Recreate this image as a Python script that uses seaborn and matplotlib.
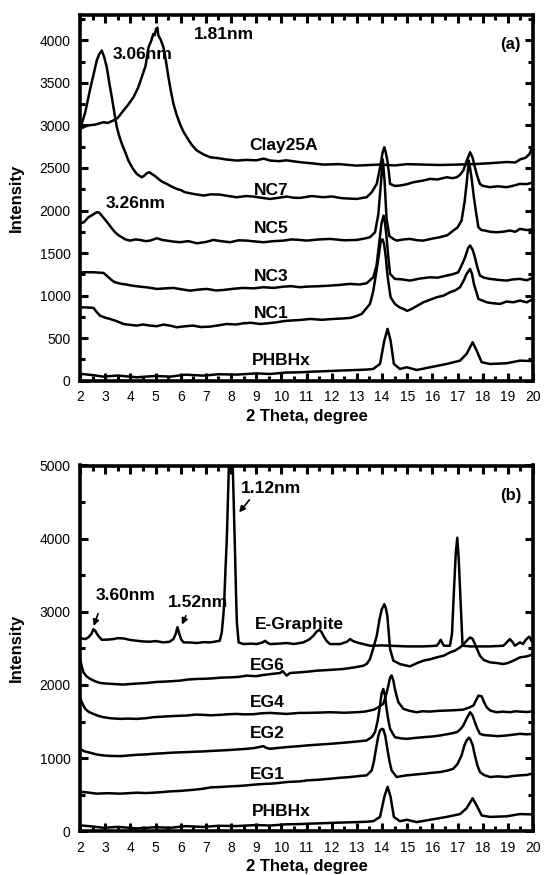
import numpy as np
import pandas as pd
import matplotlib
matplotlib.use("Agg")
import matplotlib.pyplot as plt
import seaborn as sns
from matplotlib.ticker import MultipleLocator

sns.set_style("ticks")
plt.rcParams['font.family'] = ['Liberation Sans', 'DejaVu Sans']
plt.rcParams['text.color'] = 'black'
plt.rcParams['axes.labelcolor'] = 'black'
plt.rcParams['xtick.color'] = 'black'
plt.rcParams['ytick.color'] = 'black'
plt.rcParams['axes.edgecolor'] = 'black'

# ---- panel (a): PHBHx / Clay25A nanocomposites ----
clay_x = [2.0, 2.3, 2.6, 2.93, 3.1, 3.32, 3.5, 3.72, 3.9, 4.12, 4.3, 4.45, 4.6, 4.72, 4.82, 4.91, 4.96, 5.02, 5.07, 5.11,
          5.2, 5.31, 5.41, 5.51, 5.61, 5.71, 5.84, 5.97, 6.1, 6.24, 6.44, 6.64, 6.9, 7.17, 7.5, 7.8, 8.23, 8.6, 9.0, 9.3,
          9.55, 9.9, 10.2, 10.74, 11.2, 11.67, 12.3, 12.99, 13.5, 13.92, 14.5, 15.0, 15.64, 16.3, 16.97, 17.6, 18.29,
          18.95, 19.3, 19.48, 19.7, 19.85, 20.0]
clay_y = [2960, 3000, 3010, 3038, 3030, 3058, 3090, 3175, 3240, 3332, 3440, 3567, 3700, 3920, 3990, 4077, 4060, 4136, 4150, 4057,
          4010, 3920, 3760, 3567, 3400, 3254, 3120, 3018, 2930, 2862, 2770, 2705, 2660, 2626, 2615, 2600, 2587, 2595, 2590, 2610,
          2587, 2580, 2590, 2568, 2555, 2540, 2545, 2528, 2535, 2540, 2530, 2545, 2540, 2535, 2540, 2545, 2556,
          2570, 2565, 2600, 2620, 2660, 2760]

nc7_x = [2.0, 2.2, 2.4, 2.55, 2.66, 2.76, 2.86, 2.96, 3.06, 3.16, 3.26, 3.36, 3.46, 3.56, 3.66, 3.8, 3.92, 4.08, 4.25, 4.45,
         4.55, 4.65, 4.75, 4.85, 5.0, 5.11, 5.25, 5.44, 5.65, 5.84, 6.0, 6.17, 6.5, 6.9, 7.2, 7.56, 7.9, 8.23, 8.6, 8.89,
         9.2, 9.55, 9.9, 10.21, 10.5, 10.74, 11.2, 11.67, 12.0, 12.4, 12.99, 13.39, 13.59, 13.79, 13.87, 13.95, 14.02,
         14.09, 14.15, 14.21, 14.27, 14.32, 14.5, 14.71, 15.0, 15.24, 15.6, 15.91, 16.2, 16.57, 16.8, 16.97, 17.1, 17.23,
         17.36, 17.5, 17.6, 17.69, 17.79, 17.89, 18.0, 18.29, 18.6, 18.95, 19.2, 19.48, 19.75, 20.0]
nc7_y = [2960, 3150, 3430, 3620, 3763, 3840, 3881, 3800, 3685, 3500, 3332, 3150, 2979, 2870, 2783, 2680, 2587, 2500, 2430, 2391,
         2410, 2438, 2450, 2430, 2400, 2372, 2340, 2313, 2280, 2254, 2240, 2215, 2195, 2176, 2190, 2187, 2170, 2156, 2170, 2164,
         2150, 2136, 2150, 2164, 2150, 2148, 2170, 2156, 2165, 2145, 2136, 2156, 2215, 2313, 2430, 2548, 2680,
         2744, 2680, 2587, 2450, 2313, 2290, 2293, 2310, 2332, 2350, 2372, 2365, 2391, 2380, 2391, 2420, 2470,
         2580, 2685, 2620, 2509, 2400, 2313, 2290, 2274, 2285, 2274, 2290, 2313, 2310, 2330]

nc5_x = [2.0, 2.15, 2.33, 2.5, 2.66, 2.76, 2.86, 3.0, 3.13, 3.26, 3.39, 3.52, 3.66, 3.8, 3.99, 4.2, 4.38, 4.6, 4.78, 5.05,
         5.25, 5.44, 5.7, 5.97, 6.3, 6.64, 7.0, 7.3, 7.6, 7.96, 8.3, 8.62, 9.0, 9.28, 9.7, 10.08, 10.4, 10.74, 11.0, 11.5,
         11.93, 12.5, 12.99, 13.3, 13.52, 13.72, 13.85, 13.95, 14.03, 14.1, 14.18, 14.29, 14.45, 14.58, 14.85, 15.11,
         15.4, 15.64, 16.0, 16.3, 16.6, 16.83, 17.0, 17.16, 17.28, 17.36, 17.45, 17.55, 17.65, 17.75, 17.83, 17.95,
         18.09, 18.3, 18.55, 18.8, 19.08, 19.3, 19.48, 19.75, 20.0]
nc5_y = [1850, 1862, 1921, 1950, 1980, 1975, 1940, 1890, 1842, 1790, 1744, 1710, 1686, 1660, 1646, 1660, 1654, 1640, 1646, 1674,
         1655, 1646, 1635, 1627, 1640, 1615, 1630, 1654, 1640, 1627, 1650, 1646, 1635, 1627, 1640, 1646, 1660, 1654, 1646, 1660,
         1666, 1650, 1654, 1670, 1686, 1744, 1950, 2300, 2600, 2350, 1900, 1700, 1666, 1646, 1660, 1666,
         1650, 1646, 1670, 1686, 1710, 1764, 1800, 1882, 2100, 2313, 2587, 2400, 2156, 1950, 1803, 1770,
         1764, 1750, 1744, 1750, 1764, 1750, 1784, 1770, 1780]

nc3_x = [2.0, 2.53, 2.93, 3.03, 3.13, 3.26, 3.39, 3.6, 3.85, 4.1, 4.38, 4.7, 5.05, 5.4, 5.71, 6.0, 6.37, 6.7, 7.03, 7.4,
         7.7, 8.1, 8.49, 8.9, 9.28, 9.7, 10.08, 10.4, 10.74, 11.0, 11.5, 11.93, 12.3, 12.73, 13.1, 13.39, 13.65, 13.78,
         13.88, 13.98, 14.06, 14.12, 14.18, 14.25, 14.32, 14.51, 14.8, 15.11, 15.5, 15.91, 16.2, 16.57, 16.8, 17.03,
         17.2, 17.3, 17.42, 17.5, 17.6, 17.69, 17.79, 17.89, 18.05, 18.29, 18.6, 18.95, 19.2, 19.48, 19.75, 20.0]
nc3_y = [1274, 1274, 1266, 1240, 1215, 1180, 1156, 1140, 1129, 1115, 1105, 1095, 1078, 1085, 1090, 1075, 1058, 1070, 1078, 1060,
         1066, 1080, 1090, 1085, 1098, 1090, 1105, 1110, 1098, 1105, 1110, 1117, 1125, 1137, 1130, 1145, 1215, 1350,
         1600, 1850, 1940, 1850, 1686, 1450, 1254, 1196, 1190, 1176, 1200, 1215, 1210, 1235, 1250, 1274,
         1380, 1450, 1560, 1588, 1540, 1450, 1330, 1235, 1210, 1196, 1185, 1176, 1190, 1196, 1180, 1210]

nc1_x = [2.0, 2.3, 2.53, 2.65, 2.79, 3.0, 3.19, 3.45, 3.72, 4.0, 4.25, 4.5, 4.78, 5.05, 5.31, 5.6, 5.84, 6.2, 6.5, 6.8,
         7.17, 7.5, 7.83, 8.2, 8.49, 8.8, 9.15, 9.5, 9.81, 10.1, 10.34, 10.74, 11.14, 11.6, 12.06, 12.4, 12.73, 13.0,
         13.19, 13.35, 13.52, 13.65, 13.76, 13.86, 13.95, 14.02, 14.08, 14.15, 14.21, 14.28, 14.34, 14.51, 14.7, 14.85,
         15.0, 15.18, 15.4, 15.64, 15.9, 16.17, 16.45, 16.7, 16.9, 17.1, 17.25, 17.36, 17.5, 17.58, 17.65, 17.75,
         17.83, 18.0, 18.16, 18.4, 18.69, 18.95, 19.22, 19.48, 19.75, 20.0]
nc1_y = [862, 860, 855, 810, 764, 740, 725, 700, 666, 655, 647, 660, 647, 640, 659, 645, 627, 640, 647, 630,
         635, 650, 666, 660, 674, 680, 666, 675, 686, 700, 706, 713, 725, 715, 725, 730, 737, 760,
         784, 840, 902, 1050, 1254, 1450, 1646, 1660, 1607, 1450, 1254, 1100, 980, 902, 860, 843,
         820, 843, 880, 921, 950, 980, 1000, 1039, 1060, 1098, 1180, 1254, 1313, 1250, 1137, 1040,
         960, 940, 921, 910, 902, 930, 921, 941, 920, 960]

phb_x = [2.0, 2.5, 2.93, 3.5, 4.25, 5.0, 5.58, 6.2, 6.9, 7.5, 8.23, 9.0, 9.55, 10.2, 10.74, 11.2, 11.67, 12.3, 12.99, 13.4,
         13.65, 13.92, 14.09, 14.22, 14.34, 14.47, 14.71, 14.98, 15.38, 15.91, 16.57, 17.1, 17.36, 17.6, 17.76, 17.96,
         18.29, 18.95, 19.48, 20.0]
phb_y = [80, 65, 47, 60, 39, 55, 47, 70, 59, 75, 71, 85, 78, 95, 98, 105, 110, 118, 125, 130,
         137, 196, 470, 608, 470, 196, 137, 157, 125, 157, 196, 235, 314, 451, 353, 216,
         196, 204, 235, 230]

# ---- panel (b): PHBHx / expanded graphite ----
egr_x = [2.0, 2.2, 2.33, 2.45, 2.53, 2.6, 2.72, 2.86, 3.1, 3.32, 3.5, 3.72, 4.0, 4.25, 4.5, 4.78, 5.0, 5.31, 5.55, 5.71,
         5.8, 5.87, 5.94, 6.02, 6.11, 6.4, 6.64, 6.9, 7.17, 7.4, 7.55, 7.63, 7.68, 7.72, 7.78, 7.83, 7.88, 7.93, 7.98,
         8.03, 8.07, 8.12, 8.16, 8.2, 8.23, 8.3, 8.49, 8.8, 9.02, 9.25, 9.35, 9.45, 9.55, 9.9, 10.21, 10.5, 10.87, 11.1,
         11.27, 11.4, 11.51, 11.6, 11.67, 11.8, 11.93, 12.33, 12.6, 12.73, 12.85, 12.99, 13.52, 14.0, 14.32, 14.98,
         15.64, 16.17, 16.25, 16.33, 16.4, 16.46, 16.7, 16.78, 16.86, 16.93, 16.99, 17.05, 17.1, 17.2, 17.5, 18.29,
         18.82, 18.95, 19.08, 19.2, 19.28, 19.48, 19.6, 19.72, 19.85, 19.95, 20.0]
egr_y = [2640, 2627, 2650, 2700, 2763, 2740, 2672, 2618, 2620, 2627, 2640, 2636, 2615, 2604, 2595, 2591, 2600, 2582, 2590, 2627,
         2700, 2790, 2700, 2620, 2582, 2580, 2573, 2585, 2582, 2595, 2604, 2718, 2900, 3082, 3600, 3990, 4600, 5200, 5600,
         5300, 4945, 4300, 3763, 3200, 2854, 2582, 2559, 2565, 2559, 2580, 2604, 2575, 2559, 2565, 2573, 2560, 2582, 2620,
         2672, 2730, 2754, 2720, 2672, 2600, 2559, 2559, 2590, 2627, 2600, 2582, 2536, 2540, 2536, 2527,
         2527, 2536, 2570, 2618, 2570, 2536, 2536, 2700, 3309, 3800, 4013, 3700, 3309, 2536, 2527, 2527,
         2536, 2580, 2627, 2580, 2536, 2582, 2560, 2620, 2660, 2600, 2600]

eg6_x = [2.0, 2.07, 2.13, 2.25, 2.4, 2.6, 2.79, 3.0, 3.32, 3.7, 3.99, 4.3, 4.65, 5.0, 5.31, 5.6, 5.97, 6.3, 6.64, 7.0,
         7.3, 7.6, 7.96, 8.3, 8.62, 9.0, 9.28, 9.6, 9.95, 10.05, 10.21, 10.34, 10.74, 11.0, 11.4, 11.9, 12.46, 12.9,
         13.26, 13.4, 13.52, 13.65, 13.79, 13.9, 13.99, 14.09, 14.15, 14.21, 14.27, 14.32, 14.45, 14.71, 14.9, 15.11,
         15.4, 15.64, 15.9, 16.17, 16.45, 16.7, 16.9, 17.1, 17.25, 17.36, 17.5, 17.6, 17.69, 17.79, 17.89, 18.05,
         18.29, 18.55, 18.82, 19.0, 19.22, 19.48, 19.75, 20.0]
eg6_y = [2350, 2250, 2173, 2120, 2082, 2050, 2027, 2020, 2013, 2005, 2013, 2020, 2027, 2040, 2045, 2050, 2059, 2075, 2082, 2085,
         2091, 2100, 2104, 2110, 2127, 2120, 2136, 2150, 2163, 2190, 2127, 2163, 2173, 2180, 2195, 2205, 2218, 2240,
         2263, 2290, 2354, 2500, 2672, 2900, 3036, 3104, 3050, 2945, 2700, 2491, 2332, 2286, 2270, 2254,
         2300, 2332, 2350, 2377, 2400, 2445, 2470, 2513, 2560, 2604, 2650, 2630, 2559, 2480, 2400, 2340,
         2309, 2300, 2286, 2300, 2332, 2377, 2390, 2420]

eg4_x = [2.0, 2.1, 2.2, 2.35, 2.53, 2.7, 2.93, 3.2, 3.59, 3.9, 4.25, 4.6, 4.91, 5.2, 5.58, 5.9, 6.24, 6.6, 6.9, 7.2,
         7.56, 7.9, 8.23, 8.5, 8.89, 9.2, 9.55, 9.9, 10.21, 10.5, 10.74, 11.01, 11.5, 11.93, 12.5, 12.99, 13.3, 13.52,
         13.7, 13.85, 14.05, 14.15, 14.25, 14.32, 14.38, 14.45, 14.51, 14.58, 14.65, 14.85, 15.1, 15.38, 15.6, 15.91,
         16.2, 16.57, 16.9, 17.23, 17.45, 17.63, 17.75, 17.83, 17.96, 18.06, 18.16, 18.3, 18.55, 18.8, 19.08, 19.3,
         19.48, 19.75, 20.0]
eg4_y = [1820, 1740, 1673, 1630, 1604, 1580, 1559, 1545, 1536, 1540, 1536, 1545, 1559, 1565, 1573, 1578, 1582, 1595, 1591, 1585,
         1591, 1600, 1604, 1598, 1600, 1612, 1618, 1610, 1604, 1612, 1618, 1618, 1622, 1627, 1620, 1627, 1635, 1650,
         1665, 1695, 1741, 1850, 1990, 2100, 2130, 2060, 1945, 1850, 1763, 1673, 1645, 1627, 1640, 1636,
         1645, 1650, 1655, 1663, 1690, 1718, 1800, 1854, 1845, 1760, 1695, 1650, 1627, 1635, 1627, 1640,
         1636, 1630, 1640]

eg2_x = [2.0, 2.15, 2.4, 2.65, 2.93, 3.2, 3.59, 3.9, 4.25, 4.6, 4.91, 5.25, 5.58, 5.9, 6.24, 6.6, 6.9, 7.2, 7.56, 7.9,
         8.23, 8.55, 8.89, 9.1, 9.28, 9.4, 9.55, 9.9, 10.21, 10.5, 10.74, 11.01, 11.5, 11.93, 12.3, 12.73, 13.1, 13.39,
         13.6, 13.72, 13.82, 13.92, 13.98, 14.05, 14.12, 14.18, 14.25, 14.32, 14.51, 14.75, 14.98, 15.3, 15.64, 16.0,
         16.3, 16.65, 16.97, 17.1, 17.23, 17.36, 17.5, 17.6, 17.69, 17.79, 17.89, 18.05, 18.29, 18.6, 18.95, 19.2,
         19.48, 19.75, 20.0]
eg2_y = [1127, 1095, 1073, 1050, 1036, 1030, 1027, 1035, 1045, 1050, 1059, 1065, 1073, 1078, 1082, 1088, 1091, 1098, 1104, 1110,
         1118, 1125, 1136, 1150, 1164, 1140, 1127, 1140, 1150, 1158, 1164, 1173, 1185, 1195, 1205, 1218, 1230, 1241,
         1290, 1354, 1500, 1720, 1880, 1945, 1850, 1673, 1520, 1400, 1286, 1270, 1263, 1275, 1286, 1295,
         1309, 1330, 1354, 1390, 1445, 1540, 1627, 1580, 1491, 1400, 1332, 1315, 1309, 1300, 1309, 1320,
         1332, 1325, 1330]

eg1_x = [2.0, 2.3, 2.66, 3.1, 3.59, 3.9, 4.25, 4.6, 4.91, 5.25, 5.58, 5.9, 6.24, 6.6, 6.9, 7.2, 7.56, 7.9, 8.23, 8.55,
         8.89, 9.2, 9.55, 9.9, 10.21, 10.5, 10.74, 11.01, 11.5, 11.93, 12.3, 12.73, 13.1, 13.39, 13.59, 13.68, 13.76,
         13.85, 13.92, 14.0, 14.05, 14.13, 14.21, 14.3, 14.38, 14.58, 14.8, 14.98, 15.3, 15.64, 16.0, 16.3, 16.6, 16.83,
         17.0, 17.16, 17.28, 17.36, 17.45, 17.5, 17.6, 17.69, 17.79, 17.89, 18.05, 18.29, 18.6, 18.95, 19.2, 19.48,
         19.75, 20.0]
eg1_y = [540, 530, 514, 520, 514, 520, 527, 522, 527, 535, 545, 550, 559, 570, 582, 600, 605, 612, 618, 625,
         636, 645, 650, 660, 673, 678, 682, 695, 705, 718, 730, 741, 755, 764, 832, 960, 1127,
         1300, 1380, 1400, 1395, 1300, 1127, 950, 832, 741, 755, 764, 775, 786, 800, 809, 830, 854,
         920, 1036, 1180, 1241, 1280, 1263, 1180, 1036, 900, 809, 770, 741, 750, 741, 755, 764,
         770, 790]

series_a = {"Clay25A": (clay_x, clay_y), "NC7": (nc7_x, nc7_y), "NC5": (nc5_x, nc5_y),
            "NC3": (nc3_x, nc3_y), "NC1": (nc1_x, nc1_y), "PHBHx": (phb_x, phb_y)}
series_b = {"E-Graphite": (egr_x, egr_y), "EG6": (eg6_x, eg6_y), "EG4": (eg4_x, eg4_y),
            "EG2": (eg2_x, eg2_y), "EG1": (eg1_x, eg1_y), "PHBHx": (phb_x, phb_y)}

# curve labels: (text, x, y)
labels_a = [("Clay25A", 10.1, 2760), ("NC7", 9.6, 2240), ("NC5", 9.6, 1790),
            ("NC3", 9.6, 1220), ("NC1", 9.6, 790), ("PHBHx", 10.0, 240),
            ("1.81nm", 7.7, 4070), ("3.06nm", 4.5, 3840), ("3.26nm", 4.2, 2080)]
labels_b = [("E-Graphite", 10.7, 2830), ("EG6", 9.45, 2270), ("EG4", 9.45, 1760),
            ("EG2", 9.45, 1335), ("EG1", 9.45, 775), ("PHBHx", 10.0, 270),
            ("3.60nm", 3.8, 3220), ("1.52nm", 6.7, 3130), ("1.12nm", 9.6, 4690)]
# arrows in (b): (tail x, tail y, head x, head y)
arrows_b = [(2.75, 3010, 2.5, 2770), (6.25, 2980, 6.0, 2790), (8.8, 4560, 8.25, 4330)]


def style_axis(ax, ymax, ymajor, yminor, tag):
    ax.set_xlim(2, 20)
    ax.set_ylim(0, ymax)
    ax.xaxis.set_major_locator(MultipleLocator(1))
    ax.xaxis.set_minor_locator(MultipleLocator(0.5))
    ax.yaxis.set_major_locator(MultipleLocator(ymajor))
    ax.yaxis.set_minor_locator(MultipleLocator(yminor))
    ax.tick_params(which='both', direction='in', top=True, right=True, width=2.2, labelsize=10)
    ax.tick_params(which='major', length=6, pad=7)
    ax.tick_params(which='minor', length=3.5)
    for sp in ax.spines.values():
        sp.set_linewidth(2.6)
        sp.set_visible(True)
    ax.set_xlabel("2 Theta, degree", fontsize=12, fontweight='bold', labelpad=3)
    ax.set_ylabel("Intensity", fontsize=12, fontweight='bold')
    ax.yaxis.set_label_coords(-0.125, 0.5)
    ax.text(19.1, ymax * 0.918, tag, fontsize=12, fontweight='bold', ha='center', va='center')


fig = plt.figure(figsize=(5.45, 8.75), dpi=100)
ax1 = fig.add_axes([0.147, 0.565, 0.831, 0.418])
ax2 = fig.add_axes([0.147, 0.050, 0.831, 0.418])

for ax, series, labels in [(ax1, series_a, labels_a), (ax2, series_b, labels_b)]:
    for name, (xs, ys) in series.items():
        df = pd.DataFrame({"deg": xs, "I": ys})
        sns.lineplot(data=df, x="deg", y="I", ax=ax, color="black", lw=1.8,
                     estimator=None, sort=False)
    for txt, tx, ty in labels:
        ax.text(tx, ty, txt, fontsize=12.5, fontweight='bold', ha='center', va='center')

for x0, y0, x1, y1 in arrows_b:
    ax2.annotate("", xy=(x1, y1), xytext=(x0, y0),
                 arrowprops=dict(arrowstyle='-|>', color='black', lw=1.2, mutation_scale=9))

style_axis(ax1, 4300, 500, 250, "(a)")
style_axis(ax2, 5000, 1000, 500, "(b)")

fig.savefig("out.png", dpi=100)
